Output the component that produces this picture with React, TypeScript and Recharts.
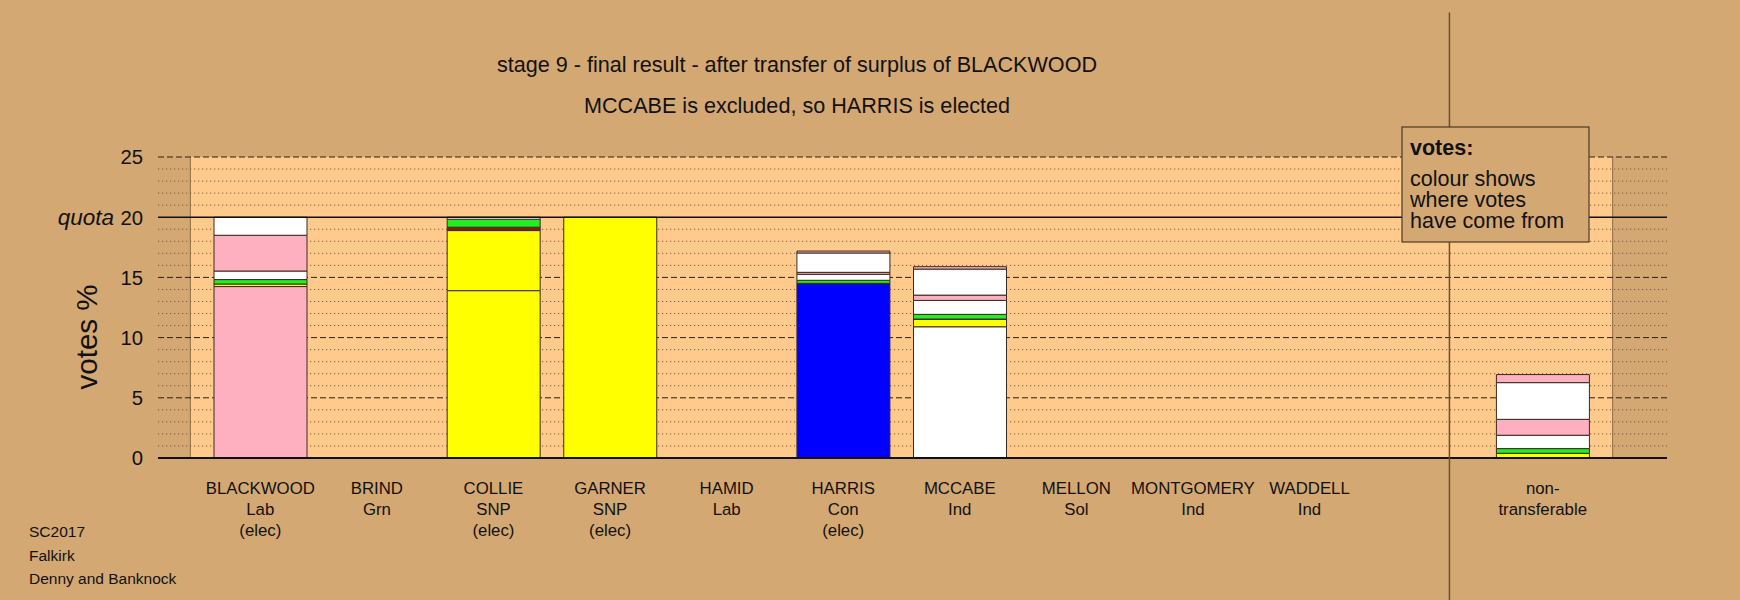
import React from 'react';
import { BarChart, Bar, XAxis, YAxis, ReferenceLine, CartesianGrid, Cell } from 'recharts';

const candidates = ['BLACKWOOD', 'BRIND', 'COLLIE', 'GARNER', 'HAMID', 'HARRIS', 'MCCABE', 'MELLON', 'MONTGOMERY', 'WADDELL', '', 'non-'];
const parties = ['Lab', 'Grn', 'SNP', 'SNP', 'Lab', 'Con', 'Ind', 'Sol', 'Ind', 'Ind', '', 'transferable'];
const statuses = ['(elec)', '', '(elec)', '(elec)', '', '(elec)', '', '', '', '', '', ''];

const own = [14.24, 0, 13.9, 20, 0, 14.48, 10.9, 0, 0, 0, 0, 0];
const fromGarner = [0.21, 0, 4.99, 0, 0, 0, 0.61, 0, 0, 0, 0, 0.39];
const fromMellon = [0, 0, 0.28, 0, 0, 0.03, 0.03, 0, 0, 0, 0, 0];
const fromBrind = [0.37, 0, 0.66, 0, 0, 0.25, 0.39, 0, 0, 0, 0, 0.39];
const fromInd1 = [0.71, 0, 0.17, 0, 0, 0.5, 1.16, 0, 0, 0, 0, 1.11];
const fromHamid = [2.97, 0, 0, 0, 0, 0.16, 0.44, 0, 0, 0, 0, 1.32];
const fromInd2 = [1.5, 0, 0, 0, 0, 1.61, 2.16, 0, 0, 0, 0, 3.05];
const fromBlackwood = [0, 0, 0, 0, 0, 0.16, 0.2, 0, 0, 0, 0, 0.67];

const yTicks = [0, 5, 10, 15, 20, 25];
const majorLines = [5, 10, 15, 25];
const minorLines = [1, 2, 3, 4, 6, 7, 8, 9, 11, 12, 13, 14, 16, 17, 18, 19, 21, 22, 23, 24];
const quota = 20;
// panel edges and divider expressed in category-slot units
const panelEdges = [-0.6, 11.6];
const dividerAt = 10.2;

const partyColors: Record<string, string> = {
  Lab: '#FFB0C0',
  Grn: '#22EE22',
  SNP: '#FFFF00',
  Con: '#0000FF',
  Ind: '#FFFFFF',
  Sol: '#8B1A0A',
};

const BG = '#D4A872';
const PANEL = '#FFCA8C';
const FONT = '"Liberation Sans", Arial, Helvetica, sans-serif';

const CHART_W = 1740;
const CHART_H = 600;
const MARGIN = { top: 157, right: 73, bottom: 82, left: 98 };
const Y_W = 60;
const PAD_L = 44;
const PAD_R = 66;
const plotW = CHART_W - MARGIN.left - MARGIN.right - Y_W;
const slot = (plotW - PAD_L - PAD_R) / candidates.length;
const numDomain = [-0.5 - PAD_L / slot, candidates.length - 0.5 + PAD_R / slot];

const data = candidates.map((c, i) => ({
  slot: i,
  name: c,
  own: own[i],
  fromGarner: fromGarner[i],
  fromMellon: fromMellon[i],
  fromBrind: fromBrind[i],
  fromInd1: fromInd1[i],
  fromHamid: fromHamid[i],
  fromInd2: fromInd2[i],
  fromBlackwood: fromBlackwood[i],
}));
const xTicks = data.map((d) => d.slot);

const transferSeries = [
  { key: 'fromGarner', color: partyColors.SNP },
  { key: 'fromMellon', color: partyColors.Sol },
  { key: 'fromBrind', color: partyColors.Grn },
  { key: 'fromInd1', color: partyColors.Ind },
  { key: 'fromHamid', color: partyColors.Lab },
  { key: 'fromInd2', color: partyColors.Ind },
  { key: 'fromBlackwood', color: partyColors.Lab },
];

const XTick = (props: any) => {
  const { x, y, payload } = props;
  const i = Math.round(payload.value);
  const lines = [candidates[i], parties[i], statuses[i]].filter((s) => s && s !== '');
  return (
    <g>
      {lines.map((l, k) => (
        <text key={k} x={x} y={y + 36 + k * 21} textAnchor="middle" fontSize={16.8} fontFamily={FONT} fill="#111">
          {l}
        </text>
      ))}
    </g>
  );
};

const YTick = (props: any) => {
  const { x, y, payload } = props;
  return (
    <g>
      <text x={x} y={y} dy="0.36em" textAnchor="end" fontSize={20.3} fontFamily={FONT} fill="#111">
        {payload.value}
      </text>
      {payload.value === quota && (
        <text x={x - 29} y={y} dy="0.36em" textAnchor="end" fontSize={22.5} fontStyle="italic" fontFamily={FONT} fill="#111">
          quota
        </text>
      )}
    </g>
  );
};

const STROKE = '#3a2a1e';

export default function App() {
  return (
    <div style={{ position: 'fixed', left: 0, top: 0, width: CHART_W, height: CHART_H, background: BG, overflow: 'hidden' }}>
      <BarChart width={CHART_W} height={CHART_H} data={data} margin={MARGIN} barSize={93}>
        <XAxis
          dataKey="slot"
          type="number"
          domain={numDomain}
          allowDataOverflow
          ticks={xTicks}
          interval={0}
          axisLine={false}
          tickLine={false}
          tickSize={0}
          tickMargin={0}
          height={60}
          tick={<XTick />}
        />
        <YAxis
          domain={[0, 25]}
          ticks={yTicks}
          interval={0}
          axisLine={false}
          tickLine={false}
          tickSize={0}
          tickMargin={15}
          width={Y_W}
          tick={<YTick />}
        />
        <CartesianGrid
          horizontal={false}
          vertical
          verticalValues={panelEdges}
          verticalFill={['none', PANEL, 'none']}
          fillOpacity={1}
          stroke="#8a6a44"
          strokeWidth={1}
        />
        <CartesianGrid
          vertical={false}
          horizontalValues={minorLines}
          stroke="#7a5a3a"
          strokeWidth={1}
          strokeDasharray="1.2 2.8"
        />
        <CartesianGrid
          vertical={false}
          horizontalValues={majorLines}
          stroke="#2a2018"
          strokeWidth={1}
          strokeDasharray="6 3"
        />
        <ReferenceLine y={quota} stroke="#111" strokeWidth={1.5} />
        <ReferenceLine y={0} stroke="#111" strokeWidth={2} />
        <ReferenceLine
          segment={[{ x: dividerAt, y: -12 }, { x: dividerAt, y: 37 }]}
          ifOverflow="visible"
          stroke="#6b5030"
          strokeWidth={1.5}
        />
        <Bar dataKey="own" stackId="a" isAnimationActive={false} stroke={STROKE} strokeWidth={1}>
          {data.map((d, i) => (
            <Cell key={i} fill={partyColors[parties[i]] || 'none'} />
          ))}
        </Bar>
        {transferSeries.map((s) => (
          <Bar key={s.key} dataKey={s.key} stackId="a" fill={s.color} stroke={STROKE} strokeWidth={1} isAnimationActive={false} />
        ))}
      </BarChart>
      <svg width={CHART_W} height={CHART_H} style={{ position: 'absolute', left: 0, top: 0, pointerEvents: 'none' }}>
        <text x={797} y={64} dy="0.36em" textAnchor="middle" fontSize={21.6} fontFamily={FONT} fill="#111">
          stage 9 - final result - after transfer of surplus of BLACKWOOD
        </text>
        <text x={797} y={105} dy="0.36em" textAnchor="middle" fontSize={21.6} fontFamily={FONT} fill="#111">
          MCCABE is excluded, so HARRIS is elected
        </text>
        <text x={86} y={337} dy="0.36em" textAnchor="middle" fontSize={29.5} fontFamily={FONT} fill="#111" transform="rotate(-90 86 337)">
          votes %
        </text>
        <rect x={1402} y={127} width={187} height={115} fill={BG} stroke="#4a3a28" strokeWidth={1.2} />
        <text x={1410} y={147} dy="0.36em" fontSize={21.5} fontWeight="bold" fontFamily={FONT} fill="#111">votes:</text>
        <text x={1410} y={178} dy="0.36em" fontSize={21.5} fontFamily={FONT} fill="#111">colour shows</text>
        <text x={1410} y={199} dy="0.36em" fontSize={21.5} fontFamily={FONT} fill="#111">where votes</text>
        <text x={1410} y={220} dy="0.36em" fontSize={21.5} fontFamily={FONT} fill="#111">have come from</text>
        <text x={29} y={531} dy="0.36em" fontSize={15.5} fontFamily={FONT} fill="#111">SC2017</text>
        <text x={29} y={555} dy="0.36em" fontSize={15.5} fontFamily={FONT} fill="#111">Falkirk</text>
        <text x={29} y={578} dy="0.36em" fontSize={15.5} fontFamily={FONT} fill="#111">Denny and Banknock</text>
      </svg>
    </div>
  );
}
